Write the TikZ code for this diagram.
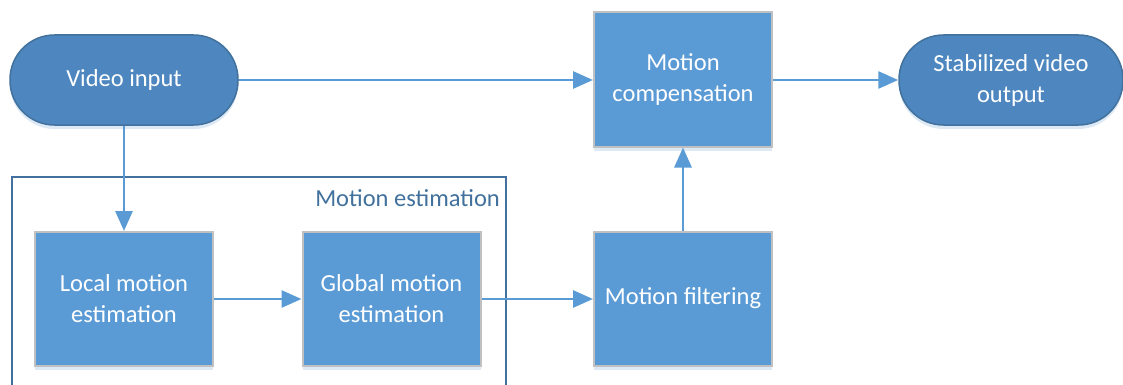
\documentclass[tikz,border=0pt]{standalone}
\usepackage{fontspec}
\setmainfont{Carlito}
\usetikzlibrary{arrows.meta,shadows}
\definecolor{pillfill}{HTML}{4E87BF}
\definecolor{pillline}{HTML}{41719C}
\definecolor{boxfill}{HTML}{5B9BD5}
\definecolor{boxline}{HTML}{C0C0C0}
\definecolor{arrowc}{HTML}{5B9BD5}
\definecolor{shadowc}{HTML}{9DC3E6}
\tikzset{
  lbl/.style={font=\fontsize{24.5}{31}\selectfont},
  softshadow/.style={drop shadow={shadow xshift=0pt, shadow yshift=-4pt, fill=shadowc, opacity=0.35}},
  pill/.style={draw=pillline, line width=1.5pt, fill=pillfill, rounded corners=44.5pt,
    minimum width=228pt, minimum height=90pt, inner sep=0pt, text=white,
    lbl, align=center, softshadow},
  procbox/.style={draw=boxline, line width=2pt, fill=boxfill,
    minimum width=178pt, minimum height=134pt, inner sep=0pt, text=white,
    lbl, align=center, softshadow},
  conn/.style={draw=arrowc, line width=2.8pt, -{Triangle[length=20pt,width=17pt]}},
  container/.style={draw=pillline, line width=2pt, minimum width=494pt, minimum height=240pt,
    inner sep=0pt, anchor=north west}
}
\begin{document}
\begin{tikzpicture}[x=1pt,y=-1pt]
\useasboundingbox (0,0) rectangle (1123,385);
\node[container] (me) at (11,176) {};
\node[anchor=east, text=pillline, lbl, inner sep=0pt] (melabel) at (500,198) {Motion estimation};
\node[pill] (vin) at (124,80) {Video input};
\node[pill, minimum width=224pt] (vout) at (1011,80) {Stabilized video\\output};
\node[procbox] (comp) at (683,79.5) {Motion\\compensation};
\node[procbox] (local) at (124,299) {Local motion\\estimation};
\node[procbox] (global) at (391.5,299) {Global motion\\estimation};
\node[procbox] (filt) at (683,298.5) {Motion filtering};
\draw[conn] (vin.east) -- (comp.west |- vin.east);
\draw[conn] (vin.south) -- (local.north);
\draw[conn] (local.east) -- (global.west);
\draw[conn] (global.east) -- (filt.west |- global.east);
\draw[conn] (filt.north) -- (comp.south);
\draw[conn] (comp.east |- vout.west) -- (vout.west);
\end{tikzpicture}
\end{document}
